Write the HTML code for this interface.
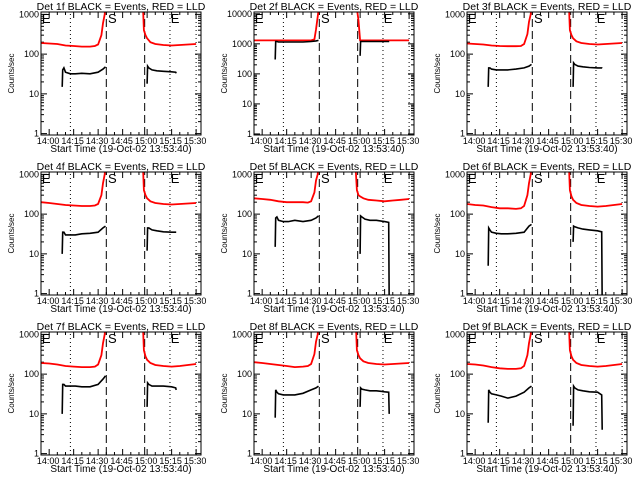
<!DOCTYPE html>
<html><head><meta charset="utf-8"><style>
html,body{margin:0;padding:0;background:#fff;}
svg{display:block;font-family:"Liberation Sans",sans-serif;}
</style></head><body>
<svg id="chart" width="640" height="480" viewBox="0 0 640 480"></svg>
<script>
// time axes in minutes after 14:00
const red1T = [-5,0,5,10,15,20,25,28,30,32,33,34,35];
const red2T = [57,57.5,58,59,60,62,65,70,75,80,85,90];
const blk1T = [8,8.3,9,10,13,16,20,25,30,33,34.5];
const blk2T = [60,60.3,61,63,66,70,75,77.5,77.8];
const xTickLabels = ["14:00","14:15","14:30","14:45","15:00","15:15","15:30"];
const xTickMins = [0,15,30,45,60,75,90];
const detNames = ["1f","2f","3f","4f","5f","6f","7f","8f","9f"];
const decades = [3,4,3,3,3,3,3,3,3];
const red1V = [
 [190,185,180,165,160,155,155,160,175,300,600,1000,3000],
 [1300,1300,1300,1300,1300,1300,1300,1300,1300,1400,3000,8000,20000],
 [185,180,175,165,160,158,158,160,180,320,650,1000,3000],
 [200,190,180,170,165,160,160,165,180,300,600,1000,3000],
 [250,240,230,210,200,200,200,195,210,350,700,1000,3000],
 [180,170,165,150,140,140,135,140,160,300,600,1000,3000],
 [190,185,175,160,155,150,150,155,175,300,600,1000,3000],
 [200,190,180,170,160,150,155,160,180,320,650,1000,3000],
 [180,175,165,150,140,135,135,140,160,300,600,1000,3000]];
const red2V = [
 [3000,1500,400,300,250,200,180,170,165,170,175,180],
 [20000,20000,15000,6000,1300,1300,1300,1300,1300,1300,1300,1300],
 [3000,1500,400,300,250,210,190,180,175,180,185,190],
 [3000,1500,400,300,250,210,190,180,175,180,185,190],
 [3000,1000,400,300,280,250,230,220,210,220,230,240],
 [3000,1500,400,280,230,190,170,160,155,160,170,180],
 [3000,1500,400,280,230,190,170,160,155,160,170,180],
 [3000,1500,400,300,250,210,190,180,175,180,185,190],
 [3000,1500,400,280,230,190,170,160,155,160,170,180]];
const blk1V = [
 [15,40,45,35,32,32,33,32,35,42,48],
 [300,1200,1200,1150,1150,1150,1150,1150,1200,1250,1300],
 [15,45,45,42,40,40,40,42,45,50,55],
 [10,35,35,30,30,30,32,33,35,45,50],
 [15,80,85,70,65,65,70,65,70,80,90],
 [5,45,40,35,33,32,32,33,35,50,55],
 [10,55,55,50,50,50,48,48,55,75,90],
 [8,40,35,32,30,30,30,33,40,45,50],
 [6,40,35,32,30,28,25,28,35,45,50]];
const blk2V = [
 [18,50,45,40,38,37,36,35,33],
 [400,1200,1200,1200,1200,1200,1200,1200,1200],
 [15,60,55,50,48,46,45,45,44],
 [12,45,45,40,38,36,35,35,35],
 [10,90,85,75,70,70,65,62,0.5],
 [20,50,48,45,42,40,38,36,0.5],
 [15,60,55,50,50,50,48,45,40],
 [15,45,42,40,38,38,36,35,10],
 [5,50,45,40,38,36,35,30,4]];
const dashedT = [35,58.5];
const dottedT = [13,74,90];

const NS="http://www.w3.org/2000/svg";
const svg=document.getElementById('chart');
function el(tag,attrs,parent){const e=document.createElementNS(NS,tag);for(const k in attrs)e.setAttribute(k,attrs[k]);(parent||svg).appendChild(e);return e;}
const colL=[41,254,467], rowT=[12,172,332], W=160, H=123;
for(let p=0;p<9;p++){
 const L=colL[p%3], T=rowT[Math.floor(p/3)];
 const g=el('g',{});
 
 
 const lmin=-0.035, lmax=decades[p]+0.06;
 const x=t=>L+(t+5)*W/98;
 const y=v=>T+H-(Math.log10(Math.max(v,0.01))-lmin)/(lmax-lmin)*H;
 const cp=el('clipPath',{id:'cp'+p},g);
 el('rect',{x:L,y:T,width:W,height:H},cp);
 const tt=el('text',{x:L+W/2,y:T-2,'text-anchor':'middle','font-size':'10.5'},g);
 tt.textContent='Det '+detNames[p]+' BLACK = Events, RED = LLD';
 
 
 const yl=el('text',{x:0,y:0,'text-anchor':'middle','font-size':'8',transform:`translate(${L-27},${T+H/2}) rotate(-90)`},g);
 yl.textContent='Counts/sec';
 
 
 const xl=el('text',{x:L+W/2,y:T+H+17,'text-anchor':'middle','font-size':'10'},g);
 xl.textContent='Start Time (19-Oct-02 13:53:40)';
 
 
 for(let d=0;d<=decades[p];d++){
  const yy=y(Math.pow(10,d));
  el('line',{x1:L,x2:L+6,y1:yy,y2:yy,stroke:'#000'},g);
  el('line',{x1:L+W-6,x2:L+W,y1:yy,y2:yy,stroke:'#000'},g);
  const lb=el('text',{x:L-2,y:yy+3,'text-anchor':'end','font-size':'9'},g);
  lb.textContent=String(Math.pow(10,d));
  
  
  if(d<decades[p]) for(let m=2;m<10;m++){const ym=y(m*Math.pow(10,d));
   el('line',{x1:L,x2:L+3,y1:ym,y2:ym,stroke:'#000'},g);
   el('line',{x1:L+W-3,x2:L+W,y1:ym,y2:ym,stroke:'#000'},g);}
 }
 for(let m=-5;m<=93;m+=5){const xx=x(m), mj=(m%15===0);
  el('line',{x1:xx,x2:xx,y1:T+H,y2:T+H-(mj?6:3),stroke:'#000'},g);
  el('line',{x1:xx,x2:xx,y1:T,y2:T+(mj?6:3),stroke:'#000'},g);}
 xTickMins.forEach((m,i)=>{const lb=el('text',{x:x(m)-1,y:T+H+9,'text-anchor':'middle','font-size':'9'},g);
  lb.textContent=xTickLabels[i];
  
  });
 dashedT.forEach(t=>{const ln=el('line',{x1:x(t),x2:x(t),y1:T+H,y2:T,stroke:'#000','stroke-dasharray':'8,4'},g);
  
  });
 dottedT.forEach(t=>{const ln=el('line',{x1:x(t),x2:x(t),y1:T+H,y2:T,stroke:'#000','stroke-dasharray':'1,3'},g);
  
  });
 [['E',-4.5],['S',36],['E',74.5]].forEach(([s,t])=>{const m=el('text',{x:x(t),y:T+11,'font-size':'13'},g);
  m.textContent=s;
  
  });
 const path=(ts,vs,col,nm,sw)=>{const d=ts.map((t,i)=>(i?'L':'M')+x(t).toFixed(1)+','+y(vs[i]).toFixed(1)).join('');
  const pe=el('path',{d:d,fill:'none',stroke:col,'stroke-width':sw,'clip-path':`url(#cp${p})`},g);
  
  };
 path(red1T,red1V[p],'#f00','lld-series-pre','1.8');
 path(red2T,red2V[p],'#f00','lld-series-post','1.8');
 path(blk1T,blk1V[p],'#000','events-series-pre','1.6');
 path(blk2T,blk2V[p],'#000','events-series-post','1.6');
 const box=el('rect',{x:L,y:T,width:W,height:H,fill:'none',stroke:'#000'},g);
 
 
}
</script>
</body></html>
